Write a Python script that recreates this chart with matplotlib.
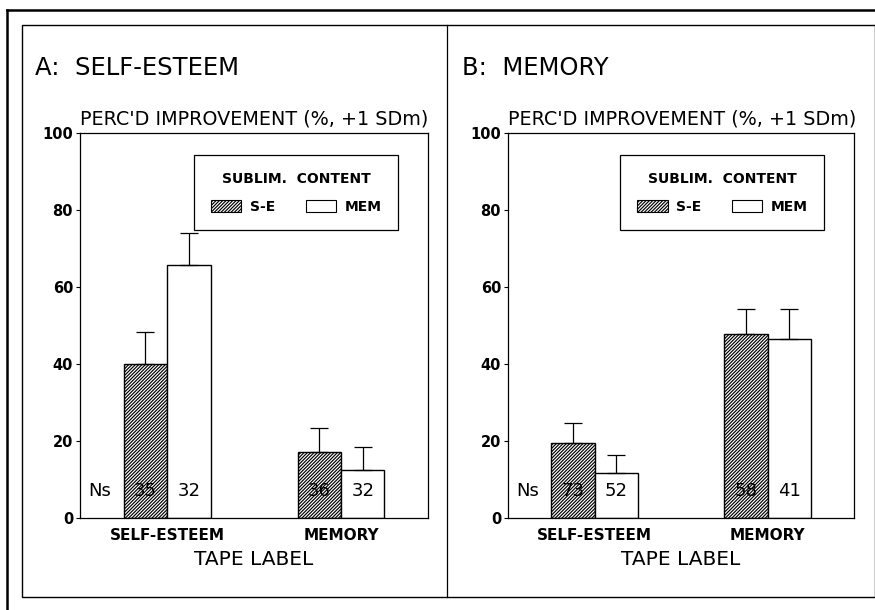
import matplotlib.pyplot as plt
from matplotlib.patches import Rectangle
from matplotlib.lines import Line2D

plt.rcParams['font.family'] = ['DejaVu Sans']
plt.rcParams['hatch.linewidth'] = 0.85

tape_labels = ['SELF-ESTEEM', 'MEMORY']

# panel A: self-esteem outcome
se_a = [40.0, 17.2]
se_a_err = [8.4, 6.3]
mem_a = [65.8, 12.5]
mem_a_err = [8.3, 6.0]
ns_se_a = ['35', '36']
ns_mem_a = ['32', '32']

# panel B: memory outcome
se_b = [19.5, 47.7]
se_b_err = [5.3, 6.5]
mem_b = [11.7, 46.4]
mem_b_err = [4.6, 7.9]
ns_se_b = ['73', '58']
ns_mem_b = ['52', '41']

panels = [
    ('A:  SELF-ESTEEM', se_a, se_a_err, mem_a, mem_a_err, ns_se_a, ns_mem_a),
    ('B:  MEMORY', se_b, se_b_err, mem_b, mem_b_err, ns_se_b, ns_mem_b),
]

fig = plt.figure(figsize=(8.75, 6.1), dpi=100)

# frames round the figure
fig.add_artist(Line2D([7 / 875, 1], [1 - 10 / 610] * 2, color='black', lw=1.8))
fig.add_artist(Line2D([7 / 875] * 2, [0, 1 - 10 / 610], color='black', lw=1.8))
fig.add_artist(Rectangle((22 / 875, 13 / 610), 1 - 22 / 875, 1 - 38 / 610,
                         fill=False, ec='black', lw=1.0))
fig.add_artist(Line2D([447 / 875] * 2, [13 / 610, 1 - 25 / 610], color='black', lw=0.9))

centers = [1, 3]
width = 0.5
lefts = [80, 508]
widths = [348, 346]
title_x = [35, 462]
hatch = '//////////'

for i, (title, se, se_err, mem, mem_err, ns_se, ns_mem) in enumerate(panels):
    ax = fig.add_axes([lefts[i] / 875, 92 / 610, widths[i] / 875, 385 / 610])
    x_se = [c - width / 2 for c in centers]
    x_mem = [c + width / 2 for c in centers]
    ax.bar(x_se, se, width, color='white', edgecolor='black', hatch=hatch, lw=1.0)
    ax.bar(x_mem, mem, width, color='white', edgecolor='black', lw=1.0)
    ax.errorbar(x_se, se, yerr=[[0, 0], se_err], fmt='none', ecolor='black',
                elinewidth=0.9, capsize=6.5, capthick=0.9)
    ax.errorbar(x_mem, mem, yerr=[[0, 0], mem_err], fmt='none', ecolor='black',
                elinewidth=0.9, capsize=6.5, capthick=0.9)

    ax.text(0.23, 7, 'Ns', ha='center', va='center', fontsize=13)
    for xs, n in zip(x_se, ns_se):
        ax.text(xs, 7, n, ha='center', va='center', fontsize=13)
    for xm, n in zip(x_mem, ns_mem):
        ax.text(xm, 7, n, ha='center', va='center', fontsize=13)

    ax.set_xlim(0, 4)
    ax.set_ylim(0, 100)
    ax.set_yticks([0, 20, 40, 60, 80, 100])
    ax.set_xticks(centers)
    ax.set_xticklabels(tape_labels, fontsize=11, fontweight='bold')
    ax.tick_params(axis='x', length=0, pad=7)
    ax.tick_params(axis='y', length=3, width=0.8, labelsize=10.5, pad=2)
    for lab in ax.get_yticklabels():
        lab.set_fontweight('bold')
    for sp in ax.spines.values():
        sp.set_linewidth(0.9)
    ax.set_xlabel('TAPE LABEL', fontsize=14.5, labelpad=5)
    ax.text(0, 1.012, "PERC'D IMPROVEMENT (%, +1 SDm)", transform=ax.transAxes,
            ha='left', va='bottom', fontsize=13.8)
    fig.text(title_x[i] / 875, 1 - 68 / 610, title, ha='left', va='center', fontsize=17.5)

    handles = [Rectangle((0, 0), 1, 1, fc='white', ec='black', hatch=hatch, lw=0.8),
               Rectangle((0, 0), 1, 1, fc='white', ec='black', lw=0.8)]
    leg = ax.legend(handles, ['S-E', 'MEM'], ncol=2, loc='upper right',
                    bbox_to_anchor=(0.914, 0.943), borderaxespad=0,
                    title='SUBLIM.  CONTENT', fancybox=False, edgecolor='black',
                    framealpha=1, prop={'size': 10, 'weight': 'bold'},
                    title_fontproperties={'size': 10, 'weight': 'bold'},
                    handlelength=2.2, handleheight=1.0, handletextpad=0.6,
                    columnspacing=2.2, borderpad=1.2, labelspacing=0.5)
    leg._legend_box.sep = 10
    leg.get_frame().set_linewidth(0.9)

fig.savefig('out.png', dpi=100)
